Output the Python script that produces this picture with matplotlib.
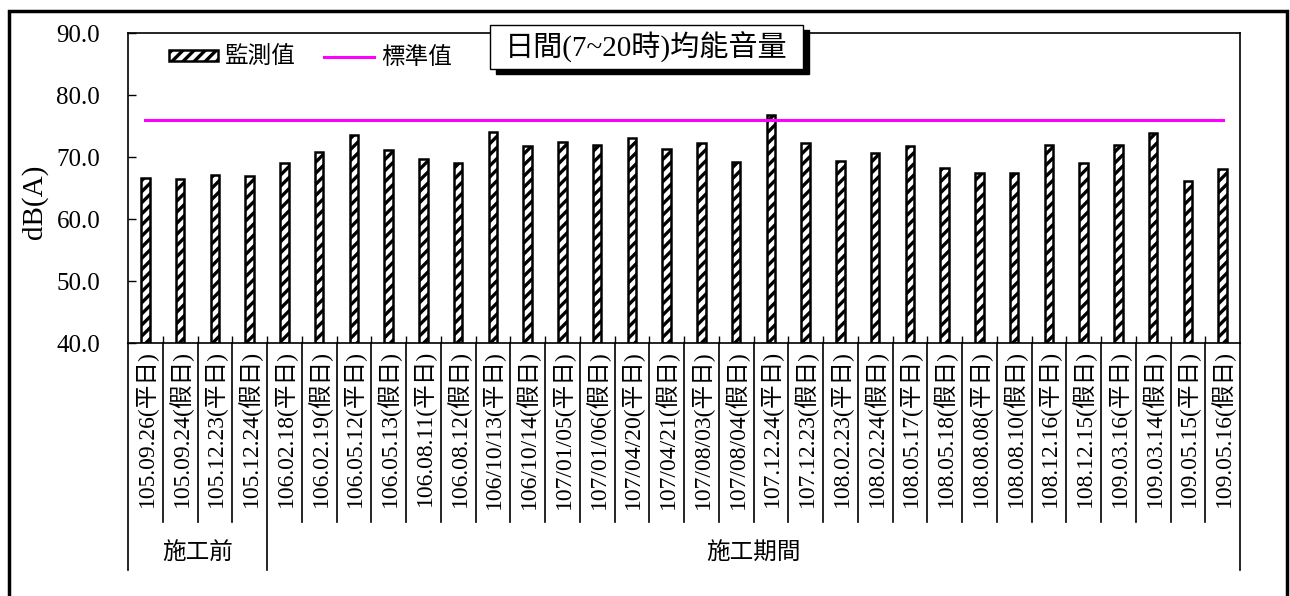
import matplotlib
matplotlib.use("Agg")
import matplotlib.pyplot as plt
from matplotlib.patches import Rectangle, Patch
from matplotlib.lines import Line2D
import matplotlib.transforms as mtransforms

plt.rcParams['font.family'] = ['Liberation Serif', 'Noto Sans CJK TC']
plt.rcParams['hatch.linewidth'] = 2.4

categories = ["105.09.26(平日)", "105.09.24(假日)", "105.12.23(平日)", "105.12.24(假日)",
              "106.02.18(平日)", "106.02.19(假日)", "106.05.12(平日)", "106.05.13(假日)",
              "106.08.11(平日)", "106.08.12(假日)", "106/10/13(平日)", "106/10/14(假日)",
              "107/01/05(平日)", "107/01/06(假日)", "107/04/20(平日)", "107/04/21(假日)",
              "107/08/03(平日)", "107/08/04(假日)", "107.12.24(平日)", "107.12.23(假日)",
              "108.02.23(平日)", "108.02.24(假日)", "108.05.17(平日)", "108.05.18(假日)",
              "108.08.08(平日)", "108.08.10(假日)", "108.12.16(平日)", "108.12.15(假日)",
              "109.03.16(平日)", "109.03.14(假日)", "109.05.15(平日)", "109.05.16(假日)"]
measured = [66.6, 66.4, 67.1, 67.0, 69.0, 70.8, 73.5, 71.2, 69.6, 69.0, 74.1, 71.8,
            72.4, 71.9, 73.1, 71.3, 72.2, 69.2, 76.8, 72.3, 69.4, 70.6, 71.7, 68.2,
            67.4, 67.4, 71.9, 69.0, 71.9, 73.9, 66.1, 68.0]
standard = [76.0] * len(categories)
groups = ["施工前", "施工期間"]
group_sizes = [4, 28]
yticks = [40.0, 50.0, 60.0, 70.0, 80.0, 90.0]

W, H = 1290, 596
fig = plt.figure(figsize=(W / 100, H / 100), dpi=100)
ax = fig.add_axes([128 / W, 1 - 343 / H, 1112 / W, 310 / H])

x = list(range(len(categories)))
ax.bar(x, [v - 40 for v in measured], bottom=40, width=0.24, color='white',
       edgecolor='black', linewidth=1.8, hatch='///', zorder=2)
ax.plot(x, standard, color='#FF00FF', linewidth=2.2, zorder=3)

ax.set_xlim(-0.5, len(categories) - 0.5)
ax.set_ylim(40, 90)
ax.set_yticks(yticks)
ax.set_yticklabels([f"{v:.1f}" for v in yticks], fontsize=18)
ax.tick_params(axis='y', direction='in', length=6, width=1, pad=20, right=False)
ax.set_xticks(x)
ax.set_xticklabels(categories, rotation=90, fontsize=17, va='top', ha='center')
ax.tick_params(axis='x', which='major', length=0, pad=5)
ax.set_xticks([i + 0.5 for i in x[:-1]], minor=True)
ax.tick_params(axis='x', which='minor', direction='in', length=5, width=1)
for s in ax.spines.values():
    s.set_linewidth(1.2)

# separators under the axis
trans = mtransforms.blended_transform_factory(ax.transData, ax.transAxes)
sep_bottom = -0.577
grp_bottom = -0.732
bounds = [0]
for g in group_sizes:
    bounds.append(bounds[-1] + g)
for i in range(len(categories) + 1):
    xb = i - 0.5
    yb = grp_bottom if i in bounds else sep_bottom
    ax.plot([xb, xb], [0, yb], color='black', linewidth=1.2, transform=trans, clip_on=False)
for gi, g in enumerate(groups):
    xc = (bounds[gi] + bounds[gi + 1]) / 2 - 0.5
    ax.text(xc, -0.681, g, transform=trans, ha='center', va='center', fontsize=17)

# ylabel
fig.text(35 / W, 1 - 202 / H, "dB(A)", rotation=90, ha='center', va='center', fontsize=21)

# legend
h1 = Patch(facecolor='white', edgecolor='black', hatch='///', linewidth=1.8)
h2 = Line2D([0], [0], color='#FF00FF', linewidth=2.2)
ax.legend([h1, h2], ["監測值", "標準值"], loc='center left',
          bbox_to_anchor=(0.028, 0.92), ncol=2, frameon=False, fontsize=17,
          handlelength=2.1, handleheight=0.35, handletextpad=0.3, columnspacing=1.2,
          borderaxespad=0)

# title box with shadow
bx, by, bw, bh = 490, 25, 313, 44
fig.patches.append(Rectangle(((bx + 6) / W, 1 - (by + bh + 5) / H), bw / W, bh / H,
                             transform=fig.transFigure, facecolor='black', edgecolor='black', zorder=5))
fig.patches.append(Rectangle((bx / W, 1 - (by + bh) / H), bw / W, bh / H,
                             transform=fig.transFigure, facecolor='white', edgecolor='black',
                             linewidth=1.0, zorder=6))
fig.text((bx + bw / 2) / W, 1 - (by + bh / 2) / H, "日間(7~20時)均能音量",
         ha='center', va='center', fontsize=21, zorder=7)

# outer frame
fig.patches.append(Rectangle((9 / W, -0.02), (1287 - 9) / W, 1 - 11 / H + 0.02,
                             transform=fig.transFigure, fill=False, edgecolor='black',
                             linewidth=2.5, zorder=8))

fig.savefig("out.png", dpi=100)
